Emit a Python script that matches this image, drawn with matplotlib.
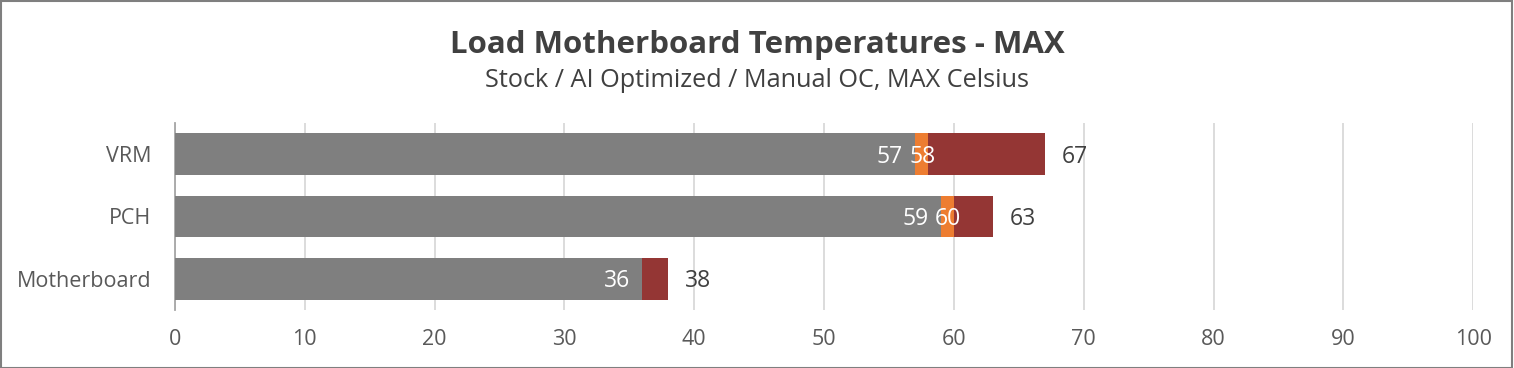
import numpy as np
import matplotlib
matplotlib.use("Agg")
import matplotlib.pyplot as plt
from matplotlib.patches import Rectangle

plt.rcParams['font.family'] = ['Open Sans', 'DejaVu Sans']

categories = ["Motherboard", "PCH", "VRM"]
stock = [36, 59, 57]
ai_opt = [36, 60, 58]
manual_oc = [38, 63, 67]
xticks = [0, 10, 20, 30, 40, 50, 60, 70, 80, 90, 100]

c_stock = "#7F7F7F"
c_ai = "#ED7D31"
c_oc = "#943634"
txt = "#404040"

fig = plt.figure(figsize=(15.14, 3.68), dpi=100)
ax = fig.add_axes([0.1156, 0.158, 0.973 - 0.1156, 0.666 - 0.158])

y = np.arange(len(categories))
h = 0.67
# bars overlap, biggest in the back
ax.barh(y, manual_oc, height=h, color=c_oc, zorder=2)
ax.barh(y, ai_opt, height=h, color=c_ai, zorder=3)
ax.barh(y, stock, height=h, color=c_stock, zorder=4)

for i in range(len(categories)):
    ax.annotate(str(stock[i]), (stock[i], y[i]), xytext=(-9, -2), textcoords="offset points",
                ha="right", va="center", color="white", fontsize=16.5, zorder=6)
    if ai_opt[i] != stock[i]:
        ax.annotate(str(ai_opt[i]), (ai_opt[i], y[i]), xytext=(-4, -2), textcoords="offset points",
                    ha="center", va="center", color="white", fontsize=16.5, zorder=6)
    ax.annotate(str(manual_oc[i]), (manual_oc[i], y[i]), xytext=(12, -2), textcoords="offset points",
                ha="left", va="center", color=txt, fontsize=16.5, zorder=6)

ax.set_xlim(0, 100)
ax.set_ylim(-0.5, 2.5)
ax.set_xticks(xticks)
ax.set_yticks(y)
ax.set_yticklabels(categories)
ax.grid(axis="x", color="#D9D9D9", linewidth=1.3, zorder=0)
ax.set_axisbelow(True)
for s in ["top", "right", "bottom"]:
    ax.spines[s].set_visible(False)
ax.spines["left"].set_color("#A6A6A6")
ax.spines["left"].set_linewidth(1.3)
ax.tick_params(axis="both", length=0, labelsize=15.5, colors="#595959")
ax.tick_params(axis="x", pad=14)
ax.tick_params(axis="y", pad=17)

fig.text(0.5, 0.877, "Load Motherboard Temperatures - MAX", ha="center", va="center",
         fontsize=22.5, fontweight="bold", color=txt)
fig.text(0.5, 0.782, "Stock / AI Optimized / Manual OC, MAX Celsius", ha="center", va="center",
         fontsize=18.2, color=txt)

fig.patches.append(Rectangle((0.0005, 0.001), 0.998, 0.997, transform=fig.transFigure,
                             fill=False, edgecolor="#7F7F7F", linewidth=1.5))

fig.savefig("out.png", dpi=100)
